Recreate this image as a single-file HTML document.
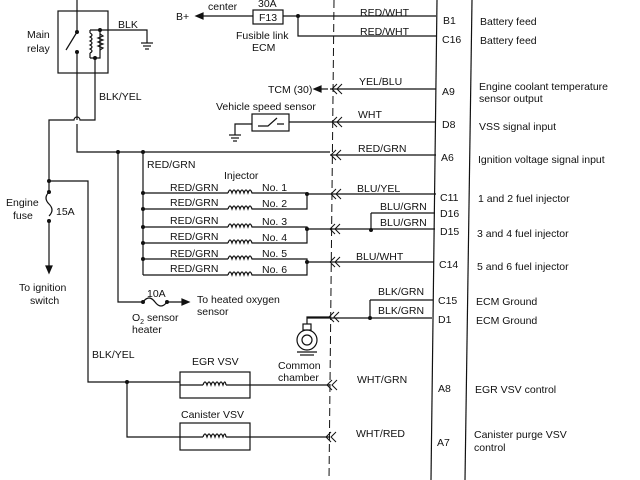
<!DOCTYPE html>
<html><head><meta charset="utf-8"><style>
html,body{margin:0;padding:0;background:#fff;}
svg{display:block;}
text{font-family:"Liberation Sans",sans-serif;font-size:10.5px;fill:#111;}
</style></head><body>
<svg width="640" height="480" viewBox="0 0 640 480" xmlns="http://www.w3.org/2000/svg">
<g stroke="#111" stroke-width="1.2" fill="none">
<line x1="437" y1="0" x2="431" y2="480"/>
<line x1="472" y1="0" x2="465" y2="480"/>
<line x1="334" y1="0" x2="329" y2="480" stroke-dasharray="8,4" stroke-width="1"/>
<rect x="58" y="11" width="50" height="62"/>
<line x1="77" y1="0" x2="77" y2="32"/>
<line x1="77" y1="32" x2="66" y2="50"/>
<line x1="77" y1="52" x2="77" y2="120"/>
<path d="M77 124 V152 H330"/>
<path d="M100 30 H147 V43"/>
<line x1="141" y1="43" x2="153" y2="43"/><line x1="143" y1="46" x2="151" y2="46"/><line x1="145" y1="49" x2="149" y2="49"/>
<path d="M100 30 V58 H95 V120 H80 A3 3 0 0 0 74 120 H49 V181"/>
<path d="M90 33 q4 2 0 4 q4 2 0 4 q4 2 0 4 q4 2 0 4 q4 2 0 4 M90 33 V30 M90 53 V58 M90 30 H100 M90 58 H95"/>
<path d="M100 34 l3 2 -5 2 5 2 -5 2 5 2 -5 2 5 2 -3 2"/>
<path d="M49 181 V192 M49 192 q-6 6 0 12 q6 6 0 12 M49 221 V270"/>
<path d="M46 266 L49 273 L52 266 Z" fill="#111"/>
<path d="M49 181 H88 V382 H180"/>
<rect x="180" y="372" width="70" height="26"/>
<path d="M180 385 H203 M226 385 H250 H330"/>
<path d="M127 382 V437 H180"/>
<rect x="180" y="423" width="70" height="27"/>
<path d="M180 437 H203 M226 437 H250 H330"/>
<path d="M203 385 q2-6 4-0 q2-6 4 0 q2-6 4 0 q2-6 4 0 q2-6 4 0 q2-6 3 0"/>
<path d="M203 437 q2-6 4-0 q2-6 4 0 q2-6 4 0 q2-6 4 0 q2-6 4 0 q2-6 3 0"/>
<path d="M118 152 V302 H143 q6 -8 12 0 q6 8 12 0 H183"/>
<path d="M182 299 L189 302 L182 305 Z" fill="#111"/>
<path d="M143 152 V275"/>
<path d="M143 193 H228 M255 193 H307 V209 H255 M228 209 H143"/>
<path d="M143 227 H228 M255 227 H307 V243 H255 M228 243 H143"/>
<path d="M143 259 H228 M255 259 H307 V275 H255 M228 275 H143"/>
<g>
<path d="M228 193 q2-6 4 0 q2-6 4 0 q2-6 4 0 q2-6 4 0 q2-6 4 0 q2-6 4 0 h3"/>
<path d="M228 209 q2-6 4 0 q2-6 4 0 q2-6 4 0 q2-6 4 0 q2-6 4 0 q2-6 4 0 h3"/>
<path d="M228 227 q2-6 4 0 q2-6 4 0 q2-6 4 0 q2-6 4 0 q2-6 4 0 q2-6 4 0 h3"/>
<path d="M228 243 q2-6 4 0 q2-6 4 0 q2-6 4 0 q2-6 4 0 q2-6 4 0 q2-6 4 0 h3"/>
<path d="M228 259 q2-6 4 0 q2-6 4 0 q2-6 4 0 q2-6 4 0 q2-6 4 0 q2-6 4 0 h3"/>
<path d="M228 275 q2-6 4 0 q2-6 4 0 q2-6 4 0 q2-6 4 0 q2-6 4 0 q2-6 4 0 h3"/>
</g>
<path d="M307 194 H436 M307 229 H435 M307 262 H434"/>
<path d="M371 213 H435 M371 213 V230"/>
<path d="M370 300 H433 M370 300 V318 H432"/>
<path d="M307 318 H370"/>
<path d="M203 16 H253 M283 16 H436"/>
<rect x="253" y="10" width="30" height="14"/>
<path d="M298 16 V36 H436"/>
<path d="M203 13 L196 16 L203 19 Z" fill="#111"/>
<path d="M330 89 H436"/>
<path d="M328 89 H320"/><path d="M321 86 L314 89 L321 92 Z" fill="#111"/>
<rect x="252" y="114" width="37" height="17"/>
<path d="M289 122 H436 M252 124 H235 V135"/>
<path d="M258 126 L268 126 L277 118 M277 124 H284"/>
<line x1="229" y1="135" x2="241" y2="135"/><line x1="231" y1="138" x2="239" y2="138"/><line x1="233" y1="141" x2="237" y2="141"/>
<path d="M330 155 H436"/>
<circle cx="307" cy="340" r="10"/><circle cx="307" cy="340" r="5"/>
<rect x="303" y="324" width="8" height="6"/>
<path d="M307 324 V317 H330"/>
<line x1="297" y1="352" x2="317" y2="352"/><line x1="300" y1="355" x2="314" y2="355"/>
<g stroke-width="1">
<path d="M337 84 l-5 5 5 5 M342 84 l-5 5 5 5"/>
<path d="M337 117 l-5 5 5 5 M342 117 l-5 5 5 5"/>
<path d="M336 150 l-5 5 5 5 M341 150 l-5 5 5 5"/>
<path d="M336 189 l-5 5 5 5 M341 189 l-5 5 5 5"/>
<path d="M335 224 l-5 5 5 5 M340 224 l-5 5 5 5"/>
<path d="M335 257 l-5 5 5 5 M340 257 l-5 5 5 5"/>
<path d="M334 312 l-5 5 5 5 M339 312 l-5 5 5 5"/>
<path d="M332 380 l-5 5 5 5 M337 380 l-5 5 5 5"/>
<path d="M331 432 l-5 5 5 5 M336 432 l-5 5 5 5"/>
</g>
</g>
<g fill="#111">
<circle cx="77" cy="32" r="2"/><circle cx="77" cy="52" r="2"/><circle cx="100" cy="30" r="2"/><circle cx="95" cy="58" r="2"/>
<circle cx="49" cy="181" r="2"/><circle cx="49" cy="192" r="2"/><circle cx="49" cy="221" r="2"/>
<circle cx="118" cy="152" r="2"/><circle cx="143" cy="152" r="2"/>
<circle cx="143" cy="193" r="2"/><circle cx="143" cy="209" r="2"/><circle cx="143" cy="227" r="2"/><circle cx="143" cy="243" r="2"/><circle cx="143" cy="259" r="2"/>
<circle cx="307" cy="194" r="2"/><circle cx="307" cy="229" r="2"/><circle cx="307" cy="262" r="2"/>
<circle cx="371" cy="230" r="2"/><circle cx="370" cy="318" r="2"/>
<circle cx="298" cy="16" r="2"/><circle cx="127" cy="382" r="2"/>
<circle cx="143" cy="302" r="2"/><circle cx="167" cy="302" r="2"/>
</g>
<text x="27" y="38">Main</text><text x="27" y="52">relay</text>
<text x="118" y="28">BLK</text>
<text x="99" y="100">BLK/YEL</text>
<text x="6" y="206">Engine</text><text x="13" y="219">fuse</text>
<text x="56" y="215">15A</text>
<text x="19" y="291">To ignition</text><text x="30" y="304">switch</text>
<text x="147" y="168">RED/GRN</text>
<text x="224" y="179">Injector</text>
<text x="170" y="191">RED/GRN</text><text x="262" y="191">No. 1</text>
<text x="170" y="206">RED/GRN</text><text x="262" y="207">No. 2</text>
<text x="170" y="224">RED/GRN</text><text x="262" y="225">No. 3</text>
<text x="170" y="240">RED/GRN</text><text x="262" y="241">No. 4</text>
<text x="170" y="257">RED/GRN</text><text x="262" y="257">No. 5</text>
<text x="170" y="272">RED/GRN</text><text x="262" y="273">No. 6</text>
<text x="147" y="297">10A</text>
<text x="197" y="303">To heated oxygen</text><text x="197" y="315">sensor</text>
<text x="132" y="321">O<tspan font-size="7" dy="3">2</tspan><tspan dy="-3"> sensor</tspan></text><text x="132" y="333">heater</text>
<text x="92" y="358">BLK/YEL</text>
<text x="192" y="365">EGR VSV</text>
<text x="181" y="418">Canister VSV</text>
<text x="278" y="369">Common</text><text x="278" y="381">chamber</text>
<text x="176" y="20">B+</text>
<text x="208" y="10">center</text>
<text x="258" y="7">30A</text>
<text x="259" y="21">F13</text>
<text x="236" y="39">Fusible link</text><text x="252" y="51">ECM</text>
<text x="268" y="93">TCM (30)</text>
<text x="216" y="110">Vehicle speed sensor</text>
<text x="360" y="16">RED/WHT</text>
<text x="360" y="35">RED/WHT</text>
<text x="359" y="85">YEL/BLU</text>
<text x="358" y="118">WHT</text>
<text x="358" y="152">RED/GRN</text>
<text x="357" y="192">BLU/YEL</text>
<text x="380" y="210">BLU/GRN</text>
<text x="380" y="226">BLU/GRN</text>
<text x="356" y="260">BLU/WHT</text>
<text x="378" y="295">BLK/GRN</text>
<text x="378" y="314">BLK/GRN</text>
<text x="357" y="383">WHT/GRN</text>
<text x="356" y="437">WHT/RED</text>
<text x="443" y="24">B1</text><text x="442" y="43">C16</text>
<text x="442" y="95">A9</text><text x="442" y="128">D8</text><text x="441" y="161">A6</text>
<text x="440" y="201">C11</text><text x="440" y="217">D16</text><text x="440" y="235">D15</text>
<text x="439" y="268">C14</text><text x="438" y="304">C15</text><text x="438" y="323">D1</text>
<text x="438" y="392">A8</text><text x="437" y="446">A7</text>
<text x="480" y="25">Battery feed</text>
<text x="480" y="44">Battery feed</text>
<text x="479" y="90">Engine coolant temperature</text>
<text x="479" y="102">sensor output</text>
<text x="479" y="130">VSS signal input</text>
<text x="478" y="163">Ignition voltage signal input</text>
<text x="478" y="202">1 and 2 fuel injector</text>
<text x="477" y="237">3 and 4 fuel injector</text>
<text x="477" y="270">5 and 6 fuel injector</text>
<text x="476" y="305">ECM Ground</text>
<text x="476" y="324">ECM Ground</text>
<text x="475" y="393">EGR VSV control</text>
<text x="474" y="438">Canister purge VSV</text>
<text x="474" y="451">control</text>
</svg>
</body></html>
